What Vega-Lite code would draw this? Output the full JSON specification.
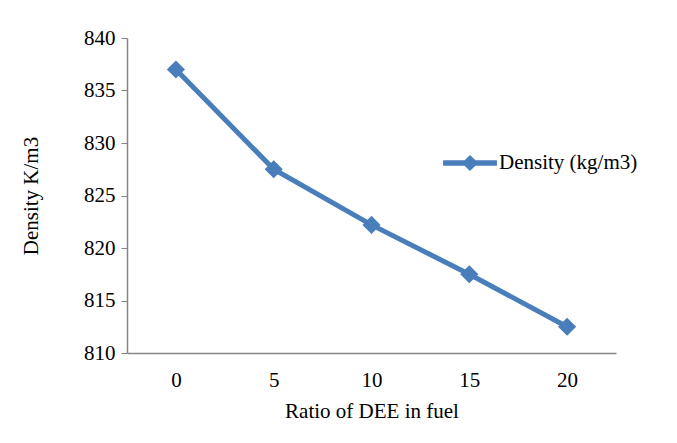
{
  "$schema": "https://vega.github.io/schema/vega-lite/v6.json",
  "autosize": "none",
  "width": 489,
  "height": 315,
  "padding": {"left": 127, "top": 38, "right": 61, "bottom": 90},
  "background": "white",
  "config": {
    "view": {"stroke": null},
    "font": "Liberation Serif",
    "axis": {
      "labelFont": "Liberation Serif",
      "titleFont": "Liberation Serif",
      "labelFontSize": 21,
      "titleFontSize": 21,
      "titleFontWeight": "normal",
      "labelColor": "#000000",
      "titleColor": "#000000",
      "domainColor": "#868686",
      "tickColor": "#868686",
      "domainWidth": 1.5,
      "grid": false
    },
    "legend": {"labelFont": "Liberation Serif", "labelFontSize": 21, "labelColor": "#000000", "labelLimit": 300}
  },
  "data": {
    "values": [
      {"ratio": "0", "density": 837.0, "series": "Density (kg/m3)"},
      {"ratio": "5", "density": 827.5, "series": "Density (kg/m3)"},
      {"ratio": "10", "density": 822.2, "series": "Density (kg/m3)"},
      {"ratio": "15", "density": 817.5, "series": "Density (kg/m3)"},
      {"ratio": "20", "density": 812.5, "series": "Density (kg/m3)"}
    ]
  },
  "encoding": {
    "x": {
      "field": "ratio",
      "type": "ordinal",
      "sort": null,
      "scale": {"type": "point", "padding": 0.5},
      "axis": {"title": "Ratio of DEE in fuel", "labelAngle": 0, "ticks": false, "labelPadding": 16, "titlePadding": 10}
    },
    "y": {
      "field": "density",
      "type": "quantitative",
      "scale": {"domain": [810, 840], "nice": false, "zero": false},
      "axis": {"title": "Density K/m3", "values": [810, 815, 820, 825, 830, 835, 840], "tickSize": 6, "labelPadding": 6, "titlePadding": 42}
    },
    "color": {
      "field": "series",
      "type": "nominal",
      "scale": {"range": ["#4a7ebb"]},
      "legend": {
        "title": null,
        "orient": "none",
        "legendX": 316,
        "legendY": 98,
        "symbolType": "M-1,-0.1H-0.2L0,-0.3L0.2,-0.1H1V0.1H0.2L0,0.3L-0.2,0.1H-1Z",
        "symbolSize": 2900,
        "symbolFillColor": "#4a7ebb",
        "symbolStrokeWidth": 0,
        "labelOffset": 2
      }
    }
  },
  "layer": [
    {"mark": {"type": "line", "strokeWidth": 5}},
    {"mark": {"type": "point", "shape": "diamond", "filled": true, "size": 330, "opacity": 1}}
  ]
}
